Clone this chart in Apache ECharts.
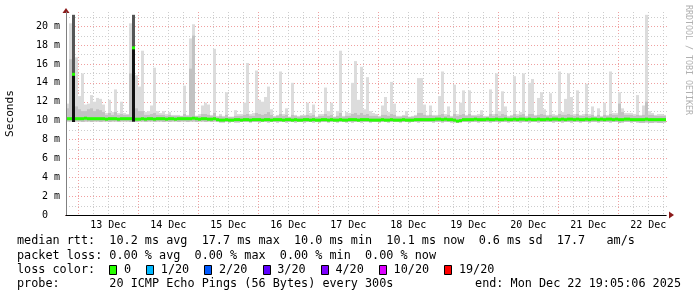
<!DOCTYPE html>
<html><head><meta charset="utf-8">
<script src="https://cdn.jsdelivr.net/npm/echarts@6/dist/echarts.min.js"></script>
<style>html,body{margin:0;padding:0;background:#fff}#c{width:697px;height:297px}</style>
</head><body><div id="c"></div>
<script>
// ---- time axis: hours since Dec 12 00:00 ----
const startHour = 19.085;          // Dec 12 19:05:06
const endHour = 259.085;           // Dec 22 19:05:06
const stepHours = 1.2;             // 72 min consolidation step

// ---- smoke data (ms), one value per step ----
const maxPing = [
11.8,20.3,21.2,16.7,12.6,15.0,11.7,11.8,12.7,12.0,
12.4,12.3,11.7,10.8,12.2,10.9,13.3,10.8,12.0,10.8,
10.7,20.3,21.2,14.8,13.6,17.4,10.9,11.0,11.6,15.6,
11.0,10.8,11.0,10.7,10.9,10.6,10.6,10.6,10.5,13.7,
10.6,18.7,20.2,10.5,10.7,11.6,11.9,11.7,10.6,17.6,
10.5,10.7,10.5,13.0,10.4,10.4,11.1,10.7,10.7,11.9,
16.1,10.7,10.8,15.3,12.2,12.0,12.5,13.6,11.2,10.5,
10.6,15.2,10.7,11.3,10.4,14.0,10.6,10.5,10.6,10.6,
11.9,10.8,11.7,10.4,10.7,10.7,13.5,11.0,11.9,10.4,
11.0,17.4,10.5,10.9,10.8,14.0,16.3,12.2,15.7,11.2,
14.6,11.0,10.8,10.7,10.5,11.6,12.5,10.9,14.1,11.8,
10.5,10.5,10.6,11.0,10.4,10.5,10.6,14.5,14.5,11.7,
10.6,11.6,10.6,10.6,12.6,15.2,10.7,11.5,10.5,13.8,
10.7,11.9,13.2,10.6,13.2,10.6,10.6,10.7,11.1,10.5,
10.5,13.3,10.7,15.0,11.0,13.1,11.5,10.5,10.6,14.7,
10.7,10.9,15.0,10.5,14.0,14.4,10.6,12.4,13.0,11.2,
10.6,12.9,10.7,10.6,15.2,10.9,12.3,15.0,12.5,10.7,
13.2,10.6,10.7,13.9,10.7,11.5,10.5,11.3,10.5,11.9,
10.6,15.2,10.8,10.8,13.0,11.3,10.8,10.8,10.8,10.7,
12.7,10.6,11.6,21.2,11.0,10.8,10.6,10.7,10.7,10.6
];
const upperPing = [
11.3,16.5,12.0,11.5,11.2,11.0,11.0,11.2,11.3,11.0,
11.2,11.1,10.9,10.6,10.8,10.6,10.9,10.6,10.7,10.6,
10.6,15.0,12.0,11.3,11.0,11.0,10.6,10.6,10.7,10.8,
10.6,10.6,10.6,10.5,10.6,10.5,10.5,10.5,10.5,10.7,
10.5,15.5,19.0,10.5,10.5,10.7,10.7,10.6,10.5,10.8,
10.4,10.5,10.4,10.6,10.4,10.4,10.5,10.5,10.5,10.6,
10.7,10.5,10.5,10.8,10.7,10.6,10.7,10.9,10.6,10.4,
10.5,10.7,10.5,10.6,10.4,10.6,10.5,10.4,10.5,10.5,
10.6,10.5,10.6,10.4,10.5,10.5,10.7,10.5,10.6,10.4,
10.5,10.8,10.4,10.5,10.5,10.7,10.8,10.6,10.8,10.6,
10.7,10.5,10.5,10.5,10.4,10.6,10.6,10.5,10.7,10.6,
10.4,10.4,10.5,10.5,10.4,10.4,10.5,10.8,10.8,10.6,
10.5,10.6,10.5,10.5,10.6,10.7,10.5,10.6,10.4,10.7,
10.5,10.6,10.7,10.5,10.7,10.5,10.5,10.5,10.6,10.4,
10.4,10.7,10.5,10.7,10.5,10.7,10.6,10.4,10.5,10.7,
10.5,10.6,10.7,10.4,10.7,10.7,10.5,10.6,10.7,10.6,
10.5,10.6,10.5,10.5,10.7,10.6,10.6,10.7,10.6,10.5,
10.7,10.5,10.5,10.7,10.5,10.6,10.4,10.6,10.4,10.6,
10.5,10.7,10.6,10.6,11.8,10.9,10.6,10.6,10.6,10.5,
10.6,10.5,10.6,12.0,10.6,10.6,10.5,10.5,10.5,10.5
];
const lowPing = [
9.9,9.9,9.85,9.9,9.9,9.85,9.9,9.9,9.85,9.9,
9.9,9.85,9.9,9.9,9.85,9.9,9.9,9.85,9.9,9.9,
9.9,9.85,9.9,9.85,9.9,9.9,9.85,9.9,9.9,9.85,
9.9,9.9,9.85,9.9,9.85,9.9,9.9,9.85,9.9,9.9,
9.85,9.9,9.9,9.85,9.9,9.9,9.85,9.9,9.85,9.9,
9.85,9.8,9.8,9.85,9.8,9.85,9.8,9.8,9.85,9.85,
9.85,9.8,9.85,9.85,9.8,9.85,9.85,9.8,9.85,9.85,
9.8,9.85,9.85,9.8,9.85,9.85,9.8,9.85,9.85,9.8,
9.85,9.85,9.8,9.85,9.8,9.85,9.85,9.8,9.85,9.85,
9.8,9.85,9.85,9.8,9.85,9.8,9.85,9.85,9.8,9.85,
9.85,9.8,9.85,9.85,9.8,9.85,9.85,9.8,9.85,9.85,
9.85,9.8,9.85,9.85,9.8,9.85,9.85,9.8,9.85,9.85,
9.85,9.85,9.8,9.85,9.85,9.8,9.85,9.85,9.8,9.8,
9.75,9.8,9.85,9.85,9.8,9.85,9.85,9.8,9.85,9.85,
9.85,9.8,9.85,9.85,9.8,9.85,9.85,9.8,9.85,9.85,
9.85,9.8,9.85,9.85,9.8,9.85,9.85,9.8,9.85,9.85,
9.85,9.85,9.8,9.85,9.85,9.8,9.85,9.85,9.8,9.85,
9.85,9.8,9.85,9.85,9.8,9.85,9.85,9.8,9.85,9.85,
9.85,9.8,9.85,9.85,9.75,9.8,9.85,9.85,9.8,9.85,
9.8,9.75,9.75,9.8,9.75,9.75,9.8,9.75,9.75,9.8
];
const medianRtt = [
10.2,10.2,14.9,10.2,10.2,10.2,10.25,10.2,10.2,10.2,
10.2,10.2,10.2,10.15,10.2,10.2,10.2,10.15,10.2,10.2,
10.2,10.2,17.7,10.15,10.15,10.2,10.15,10.2,10.2,10.15,
10.2,10.2,10.2,10.15,10.2,10.2,10.15,10.2,10.2,10.2,
10.2,10.2,10.25,10.2,10.15,10.2,10.2,10.15,10.15,10.2,
10.1,10.05,10.05,10.1,10.05,10.05,10.1,10.1,10.05,10.1,
10.1,10.05,10.1,10.1,10.1,10.05,10.1,10.1,10.05,10.1,
10.1,10.1,10.05,10.1,10.1,10.05,10.1,10.05,10.05,10.1,
10.1,10.05,10.1,10.05,10.05,10.1,10.1,10.05,10.1,10.05,
10.05,10.1,10.05,10.05,10.1,10.1,10.1,10.05,10.1,10.1,
10.1,10.05,10.05,10.05,10.05,10.1,10.05,10.05,10.1,10.05,
10.05,10.05,10.1,10.05,10.05,10.05,10.1,10.1,10.1,10.1,
10.1,10.1,10.1,10.15,10.15,10.1,10.15,10.1,10.1,10.05,
9.95,10.0,10.1,10.1,10.1,10.1,10.15,10.1,10.1,10.1,
10.15,10.1,10.1,10.15,10.1,10.1,10.15,10.1,10.1,10.15,
10.1,10.15,10.15,10.1,10.15,10.1,10.1,10.15,10.1,10.1,
10.15,10.1,10.15,10.15,10.1,10.15,10.1,10.15,10.15,10.1,
10.15,10.1,10.1,10.15,10.1,10.15,10.15,10.1,10.15,10.1,
10.15,10.15,10.1,10.15,10.1,10.1,10.15,10.15,10.1,10.1,
10.1,10.1,10.1,10.15,10.1,10.1,10.1,10.1,10.1,10.1
];
// dense (dark) smoke at the two big outliers
const darkSteps = [2, 22];
const darkTop = [21.2, 21.2];

// ---- ticks / grid ----
const dayLabelHours = [36,60,84,108,132,156,180,204,228,252];
const dayLabels = ['13 Dec','14 Dec','15 Dec','16 Dec','17 Dec','18 Dec','19 Dec','20 Dec','21 Dec','22 Dec'];
const midnightHours = [24,48,72,96,120,144,168,192,216,240];
const sixHourMarks = [30,36,42,54,60,66,78,84,90,102,108,114,126,132,138,150,156,162,174,180,186,198,204,210,222,228,234,246,252,258];
const yMajor = [2,4,6,8,10,12,14,16,18,20];
const yMinor = [1,3,5,7,9,11,13,15,17,19,21];

// ---- legend texts ----
const rttStats = [10.2, 17.7, 10.0, 10.1];
const rttStatNames = ['avg','max','min','now'];
const rttSd = 0.6;
const rttAms = 17.7;
const lossStats = [0.00, 0.00, 0.00, 0.00];
const lossLabels = ['0','1/20','2/20','3/20','4/20','10/20','19/20'];
const lossColors = ['#26ff00','#00b8ff','#0059ff','#5e00ff','#7e00ff','#dd00ff','#ff0000'];
const probeText = '20 ICMP Echo Pings (56 Bytes) every 300s';
const endText = 'end: Mon Dec 22 19:05:06 2025';

const MONO = '"DejaVu Sans Mono", "Liberation Mono", monospace';

const smokeData = maxPing.map(function (mx, i) {
  const k = darkSteps.indexOf(i);
  return [startHour + i * stepHours, startHour + (i + 1) * stepHours,
          lowPing[i], upperPing[i], mx, medianRtt[i], k >= 0 ? darkTop[k] : 0];
});

const gridData = [];
midnightHours.forEach(function (v) { gridData.push([0, v]); });
sixHourMarks.forEach(function (v) { gridData.push([1, v]); });
yMajor.forEach(function (v) { gridData.push([2, v]); });
yMinor.forEach(function (v) { gridData.push([3, v]); });

function gridItem(params, api) {
  const kind = api.value(0), v = api.value(1);
  const cs = params.coordSys;
  let shape;
  if (kind < 2) {
    const x = Math.round(api.coord([v, 0])[0]) + 0.5;
    shape = { x1: x, y1: cs.y, x2: x, y2: cs.y + cs.height };
  } else {
    const y = Math.round(api.coord([startHour, v])[1]) + 0.5;
    shape = { x1: cs.x, y1: y, x2: cs.x + cs.width + 2, y2: y };
  }
  return { type: 'line', shape: shape, silent: true,
    style: { stroke: (kind % 2 === 0) ? '#f0a0a0' : '#cdcdcd', lineWidth: 1, lineDash: [1, 2] } };
}

function smokeItem(params, api) {
  const t0 = api.value(0), t1 = api.value(1);
  const lo = api.value(2), up = api.value(3), mx = api.value(4), med = api.value(5), dk = api.value(6);
  const pLo = api.coord([t0, lo]);
  const pEnd = api.coord([t1, lo]);
  const x0 = pLo[0], w = pEnd[0] - pLo[0];
  const yLo = pLo[1];
  function rect(yTop, yBot, fill) {
    return { type: 'rect', shape: { x: x0, y: yTop, width: w, height: yBot - yTop }, style: { fill: fill } };
  }
  const ch = [];
  ch.push(rect(api.coord([t0, mx])[1], yLo, '#dcdcdc'));
  ch.push(rect(api.coord([t0, up])[1], yLo, '#c2c2c2'));
  const ym = api.coord([t0, med])[1];
  if (dk) {
    ch.push(rect(api.coord([t0, dk])[1], yLo, '#555555'));
    ch.push(rect(ym, yLo, '#111111'));
  }
  ch.push(rect(ym - 1.5, ym + 1.5, lossColors[0]));
  return { type: 'group', children: ch };
}

// legend graphics
const g = [];
const lineY = [241, 256, 270, 284];
const textX = 17;
const cw = 7.1;
function txt(s, x, y, align) {
  g.push({ type: 'text', x: x, y: y, silent: true,
    style: { text: s, fill: '#000', font: '11.8px ' + MONO, align: align || 'left', verticalAlign: 'middle' } });
}
let l1 = 'median rtt:  ';
rttStats.forEach(function (v, i) { l1 += v.toFixed(1) + ' ms ' + rttStatNames[i] + '  '; });
l1 += rttSd.toFixed(1) + ' ms sd  ' + rttAms.toFixed(1) + '   am/s';
txt(l1, textX, lineY[0]);
let l2 = 'packet loss: ';
lossStats.forEach(function (v, i) { l2 += v.toFixed(2) + ' % ' + rttStatNames[i] + (i < 3 ? '  ' : ''); });
txt(l2, textX, lineY[1]);
txt('loss color:', textX, lineY[2]);
let cur = textX + 13 * cw;
lossLabels.forEach(function (lab, i) {
  g.push({ type: 'rect', silent: true, shape: { x: Math.round(cur) + 0.5, y: lineY[2] - 4.5, width: 7, height: 9 },
    style: { fill: lossColors[i], stroke: '#000', lineWidth: 1 } });
  const lx = cur + 14.6;
  txt(lab, lx, lineY[2]);
  cur = lx + lab.length * cw + 15.2;
});
txt('probe:       ' + probeText, textX, lineY[3]);
txt(endText, 681, lineY[3], 'right');
g.push({ type: 'text', x: 688, y: 5, rotation: -Math.PI / 2, silent: true,
  style: { text: 'RRDTOOL / TOBI OETIKER', fill: '#b0b0b0', font: '8.3px ' + MONO, align: 'left', verticalAlign: 'middle' } });

const chart = echarts.init(document.getElementById('c'), null, { renderer: 'canvas' });
chart.setOption({
  animation: false,
  backgroundColor: '#ffffff',
  grid: { left: 66, right: 31, top: 12, bottom: 82, containLabel: false, outerBoundsMode: 'none' },
  xAxis: [{
    type: 'value', min: startHour, max: endHour, z: 3,
    axisLine: { show: true, onZero: false, lineStyle: { color: '#000', width: 1 } },
    axisTick: { show: false },
    splitLine: { show: false },
    axisLabel: {
      show: true, customValues: dayLabelHours, margin: 5,
      color: '#000', fontFamily: MONO, fontSize: 10,
      formatter: function (v) { const k = dayLabelHours.indexOf(Math.round(v)); return k >= 0 ? dayLabels[k] : ''; }
    }
  }, {
    type: 'value', min: startHour, max: endHour, z: 1, position: 'bottom',
    axisLine: { show: true, onZero: false, symbol: ['none', 'triangle'], symbolSize: [7, 5], symbolOffset: [0, 5.5],
      lineStyle: { color: '#8b1a1a', width: 1 } },
    axisTick: { show: false }, axisLabel: { show: false }, splitLine: { show: false }
  }],
  yAxis: [{
    type: 'value', min: 0, max: 21.5, interval: 2, z: 3,
    name: 'Seconds', nameLocation: 'middle', nameGap: 50, nameRotate: 90,
    nameTextStyle: { fontFamily: MONO, fontSize: 11.2, color: '#000' },
    axisLine: { show: true, onZero: false, lineStyle: { color: '#808080', width: 1 } },
    axisTick: { show: false },
    splitLine: { show: false },
    axisLabel: {
      margin: 6, color: '#000', fontFamily: MONO, fontSize: 10, showMaxLabel: false,
      formatter: function (v) { return v === 0 ? '0  ' : (v + ' m'); }
    }
  }, {
    type: 'value', min: 0, max: 21.5, interval: 2, z: 1, position: 'left',
    axisLine: { show: true, onZero: false, symbol: ['none', 'triangle'], symbolSize: [7, 5], symbolOffset: [0, 1.5],
      lineStyle: { color: '#8b1a1a', width: 1 } },
    axisTick: { show: false }, axisLabel: { show: false }, splitLine: { show: false }
  }],
  series: [{
    type: 'custom', name: 'grid', z: 1, silent: true,
    xAxisIndex: 0, yAxisIndex: 0,
    renderItem: gridItem, data: gridData, encode: { x: -1, y: -1 }
  }, {
    type: 'custom', name: 'median rtt', z: 2, silent: true,
    xAxisIndex: 0, yAxisIndex: 0,
    renderItem: smokeItem, data: smokeData, encode: { x: [0, 1], y: [2, 3, 4, 5] }
  }],
  graphic: g
});
</script></body></html>
